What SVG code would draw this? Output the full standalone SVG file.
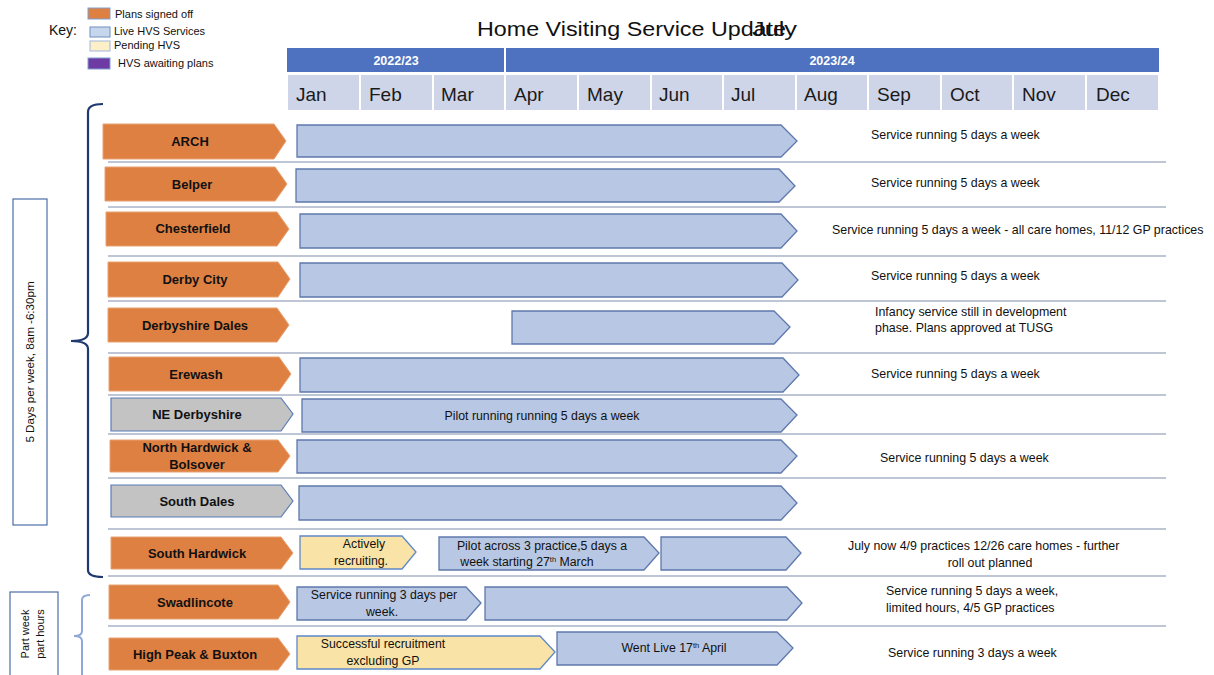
<svg xmlns="http://www.w3.org/2000/svg" width="1214" height="675" viewBox="0 0 1214 675">
<defs>
<style>
text{font-family:"Liberation Sans",Arial,sans-serif;fill:#111}
.title{font-size:20px}
.key{font-size:11px}
.yr{font-size:12.5px;font-weight:bold;fill:#fff}
.mon{font-size:19px;fill:#1a1a1a}
.lbl{font-size:13px;font-weight:bold;text-anchor:middle}
.bt{font-size:12.3px;text-anchor:middle}
.rt{font-size:12.4px}
.rtc{font-size:12.4px;text-anchor:middle}
.org{fill:#df8043;stroke:#e7a070;stroke-width:1}
.gry{fill:#c3c3c3;stroke:#5a7cb8;stroke-width:1.2}
.blu{fill:#b8c7e3;stroke:#5e78ad;stroke-width:1.3}
.yel{fill:#fae3a6;stroke:#5e88c8;stroke-width:1.3}
.sep{stroke:#a9b3c8;stroke-width:1.5}
.mcell{fill:#cfd5e9}
.sup{font-size:7.5px}
</style>
</defs>
<rect width="1214" height="675" fill="#fff"/>

<!-- Title -->
<text class="title" x="477" y="36" textLength="309" lengthAdjust="spacingAndGlyphs">Home Visiting Service Update</text>
<text class="title" x="752" y="36" textLength="45" lengthAdjust="spacingAndGlyphs">July</text>

<!-- Key -->
<g id="key">
<text x="49" y="35" style="font-size:14px">Key:</text>
<rect x="88" y="8" width="22" height="11" fill="#df8043" stroke="#7f9fd0"/>
<rect x="90" y="27" width="20" height="10" fill="#c6d6ec" stroke="#6f8fc0"/>
<rect x="90" y="41" width="20" height="10" fill="#fdf0c8" stroke="#9fb7db"/>
<rect x="88" y="58" width="22" height="11" fill="#6e3aa4" stroke="#7f9fd0"/>
<text class="key" x="115" y="18">Plans signed off</text>
<text class="key" x="114" y="35">Live HVS Services</text>
<text class="key" x="114" y="49">Pending HVS</text>
<text class="key" x="118" y="67">HVS awaiting plans</text>
</g>

<!-- Header -->
<g id="header">
<rect x="287" y="48" width="217" height="24" fill="#4e72bf"/>
<rect x="506" y="48" width="653" height="24" fill="#4e72bf"/>
<text class="yr" x="396" y="65" text-anchor="middle">2022/23</text>
<text class="yr" x="832" y="65" text-anchor="middle">2023/24</text>
<rect class="mcell" x="288" y="75" width="71" height="35"/>
<rect class="mcell" x="361" y="75" width="71" height="35"/>
<rect class="mcell" x="434" y="75" width="70" height="35"/>
<rect class="mcell" x="506" y="75" width="71" height="35"/>
<rect class="mcell" x="579" y="75" width="71" height="35"/>
<rect class="mcell" x="652" y="75" width="70" height="35"/>
<rect class="mcell" x="724" y="75" width="71" height="35"/>
<rect class="mcell" x="797" y="75" width="70" height="35"/>
<rect class="mcell" x="869" y="75" width="71" height="35"/>
<rect class="mcell" x="942" y="75" width="70" height="35"/>
<rect class="mcell" x="1014" y="75" width="71" height="35"/>
<rect class="mcell" x="1087" y="75" width="71" height="35"/>
<text class="mon" x="296" y="101">Jan</text>
<text class="mon" x="369" y="101">Feb</text>
<text class="mon" x="441" y="101">Mar</text>
<text class="mon" x="514" y="101">Apr</text>
<text class="mon" x="587" y="101">May</text>
<text class="mon" x="659" y="101">Jun</text>
<text class="mon" x="731" y="101">Jul</text>
<text class="mon" x="804" y="101">Aug</text>
<text class="mon" x="877" y="101">Sep</text>
<text class="mon" x="950" y="101">Oct</text>
<text class="mon" x="1022" y="101">Nov</text>
<text class="mon" x="1096" y="101">Dec</text>
</g>

<!-- Separators -->
<g id="separators">
<line class="sep" x1="108" y1="162" x2="1166" y2="162"/>
<line class="sep" x1="108" y1="207" x2="1166" y2="207"/>
<line class="sep" x1="108" y1="256" x2="1166" y2="256"/>
<line class="sep" x1="108" y1="301" x2="1166" y2="301"/>
<line class="sep" x1="108" y1="353" x2="1166" y2="353"/>
<line class="sep" x1="108" y1="395" x2="1166" y2="395"/>
<line class="sep" x1="108" y1="434" x2="1166" y2="434"/>
<line class="sep" x1="108" y1="478" x2="1166" y2="478"/>
<line class="sep" x1="108" y1="529" x2="1166" y2="529"/>
<line class="sep" x1="108" y1="576" x2="1166" y2="576"/>
<line class="sep" x1="108" y1="626" x2="1166" y2="626"/>
</g>

<!-- Side labels and brackets -->
<g id="side">
<rect x="13" y="199" width="34" height="326" fill="#fff" stroke="#4d6ea8" stroke-width="1.2"/>
<text transform="translate(34,362) rotate(-90)" text-anchor="middle" style="font-size:11.6px">5 Days per week, 8am -6:30pm</text>
<path d="M103,104 Q88,104 88,112 L88,333 Q88,341 71,341 Q88,341 88,349 L88,570 Q88,577 103,577" fill="none" stroke="#1f3a6e" stroke-width="2.2"/>
<rect x="10" y="592" width="48" height="90" fill="#fff" stroke="#4d6ea8" stroke-width="1.2"/>
<text transform="translate(29,634) rotate(-90)" text-anchor="middle" style="font-size:11px">Part week</text>
<text transform="translate(44,634) rotate(-90)" text-anchor="middle" style="font-size:11px">part hours</text>
<path d="M90,595 Q82,595 82,600 L82,631 Q82,636 74,636 Q82,636 82,641 L82,675" fill="none" stroke="#8ea8d8" stroke-width="2"/>
</g>

<!-- Rows -->
<g id="arch">
<polygon class="org" points="103,124 274,124 286,141 274,159 103,159"/>
<text class="lbl" x="190" y="146">ARCH</text>
<polygon class="blu" points="297,125 781,125 797,141 781,157 297,157"/>
<text class="rt" x="871" y="139">Service running 5 days a week</text>
</g>
<g id="belper">
<polygon class="org" points="105,167 275,167 287,184 275,201 105,201"/>
<text class="lbl" x="192" y="189">Belper</text>
<polygon class="blu" points="296,169 779,169 795,186 779,202 296,202"/>
<text class="rt" x="871" y="187">Service running 5 days a week</text>
</g>
<g id="chesterfield">
<polygon class="org" points="106,212 277,212 289,229 277,246 106,246"/>
<text class="lbl" x="193" y="233">Chesterfield</text>
<polygon class="blu" points="300,214 781,214 797,231 781,248 300,248"/>
<text class="rt" x="832" y="234">Service running 5 days a week - all care homes, 11/12 GP practices</text>
</g>
<g id="derby-city">
<polygon class="org" points="108,262 278,262 290,279 278,297 108,297"/>
<text class="lbl" x="195" y="284">Derby City</text>
<polygon class="blu" points="300,263 782,263 798,280 782,297 300,297"/>
<text class="rt" x="871" y="280">Service running 5 days a week</text>
</g>
<g id="derbyshire-dales">
<polygon class="org" points="108,308 277,308 289,325 277,342 108,342"/>
<text class="lbl" x="195" y="330">Derbyshire Dales</text>
<polygon class="blu" points="512,311 774,311 790,327 774,344 512,344"/>
<text class="rt" x="875" y="316">Infancy service still in development</text>
<text class="rt" x="875" y="332">phase. Plans approved at TUSG</text>
</g>
<g id="erewash">
<polygon class="org" points="109,357 279,357 291,374 279,391 109,391"/>
<text class="lbl" x="196" y="379">Erewash</text>
<polygon class="blu" points="300,358 783,358 799,375 783,392 300,392"/>
<text class="rt" x="871" y="378">Service running 5 days a week</text>
</g>
<g id="ne-derbyshire">
<polygon class="gry" points="111,398 281,398 293,414 281,431 111,431"/>
<text class="lbl" x="197" y="419">NE Derbyshire</text>
<polygon class="blu" points="302,399 781,399 797,415 781,432 302,432"/>
<text class="bt" x="542" y="420">Pilot running running 5 days a week</text>
</g>
<g id="north-hardwick">
<polygon class="org" points="110,440 278,440 290,456 278,472 110,472"/>
<text class="lbl" x="197" y="452">North Hardwick &amp;</text>
<text class="lbl" x="197" y="469">Bolsover</text>
<polygon class="blu" points="297,440 781,440 797,456 781,473 297,473"/>
<text class="rt" x="880" y="462">Service running 5 days a week</text>
</g>
<g id="south-dales">
<polygon class="gry" points="111,485 281,485 293,501 281,517 111,517"/>
<text class="lbl" x="197" y="506">South Dales</text>
<polygon class="blu" points="299,486 781,486 797,503 781,520 299,520"/>
</g>
<g id="south-hardwick">
<polygon class="org" points="111,537 281,537 293,553 281,569 111,569"/>
<text class="lbl" x="197" y="558">South Hardwick</text>
<polygon class="yel" points="300,536 402,536 416,552 402,569 300,569"/>
<text class="bt" x="364" y="548">Actively</text>
<text class="bt" x="361" y="565">recruiting.</text>
<polygon class="blu" points="439,537 644,537 659,553 644,570 439,570"/>
<text class="bt" x="542" y="550">Pilot across 3 practice,5 days a</text>
<text class="bt" x="527" y="566">week starting 27<tspan class="sup" dy="-4">th</tspan><tspan dy="4"> March</tspan></text>
<polygon class="blu" points="661,537 786,537 801,553 786,570 661,570"/>
<text class="rt" x="848" y="550">July now 4/9 practices 12/26 care homes  - further</text>
<text class="rtc" x="990" y="567">roll out planned</text>
</g>
<g id="swadlincote">
<polygon class="org" points="109,585 278,585 290,602 278,619 109,619"/>
<text class="lbl" x="195" y="607">Swadlincote</text>
<polygon class="blu" points="297,587 466,587 481,603 466,620 297,620"/>
<text class="bt" x="384" y="599">Service running 3 days per</text>
<text class="bt" x="382" y="616">week.</text>
<polygon class="blu" points="485,587 787,587 802,603 787,620 485,620"/>
<text class="rt" x="886" y="595">Service running 5 days a week,</text>
<text class="rt" x="886" y="612">limited hours, 4/5 GP practices</text>
</g>
<g id="high-peak">
<polygon class="org" points="109,638 278,638 290,654 278,670 109,670"/>
<text class="lbl" x="195" y="659">High Peak &amp; Buxton</text>
<polygon class="yel" points="297,636 540,636 555,652 540,669 297,669"/>
<text class="bt" x="383" y="648">Successful recruitment</text>
<text class="bt" x="383" y="665">excluding GP</text>
<polygon class="blu" points="557,632 777,632 793,648 777,665 557,665"/>
<text class="bt" x="674" y="652">Went Live 17<tspan class="sup" dy="-4">th</tspan><tspan dy="4"> April</tspan></text>
<text class="rt" x="888" y="657">Service running 3 days a week</text>
</g>
</svg>
